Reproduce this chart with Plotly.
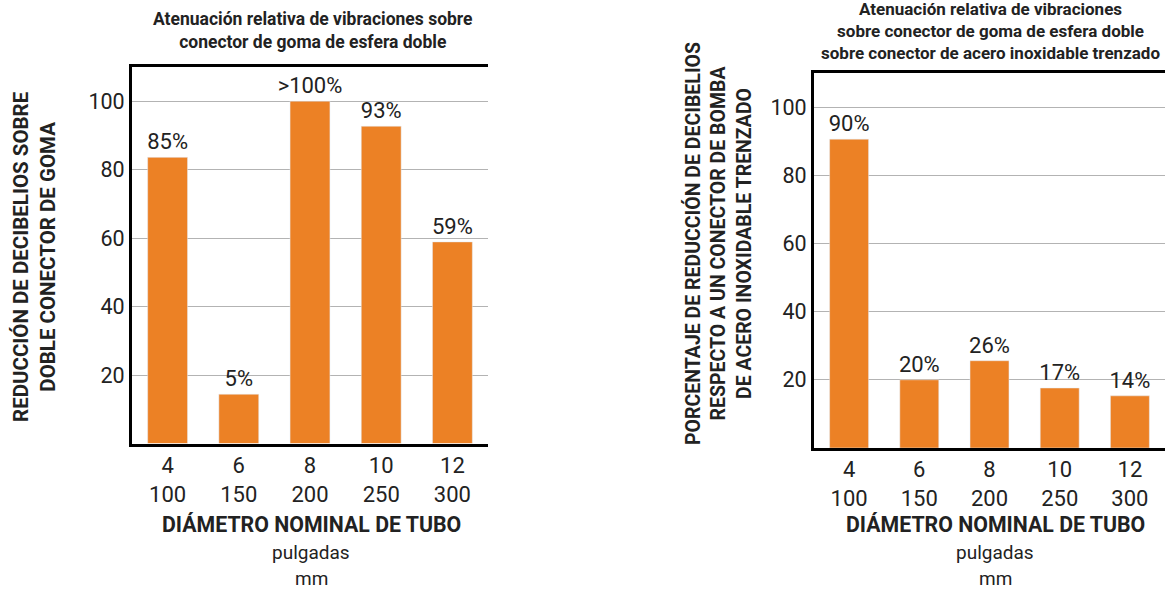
import plotly.graph_objects as go

# ---- data ----
pulgadas = ["4", "6", "8", "10", "12"]
mm = ["100", "150", "200", "250", "300"]
left_values = [83.6, 14.4, 100, 92.7, 58.9]
left_labels = ["85%", "5%", ">100%", "93%", "59%"]
right_values = [90.6, 20, 25.6, 17.6, 15.3]
right_labels = ["90%", "20%", "26%", "17%", "14%"]
y_ticks = [20, 40, 60, 80, 100]

ORANGE = "#EC8125"
TXT = "#222222"
FONT = "Roboto"

cats = list(range(len(pulgadas)))
ticktext = [f"{p}<br>{m}" for p, m in zip(pulgadas, mm)]

fig = go.Figure()
fig.add_trace(go.Bar(x=cats, y=left_values, text=left_labels, textposition="outside",
                     constraintext="none", cliponaxis=False, marker_color=ORANGE,
                     width=0.56, textfont=dict(family=FONT, size=22, color=TXT),
                     xaxis="x", yaxis="y", showlegend=False))
fig.add_trace(go.Bar(x=cats, y=right_values, text=right_labels, textposition="outside",
                     constraintext="none", cliponaxis=False, marker_color=ORANGE,
                     width=0.555, textfont=dict(family=FONT, size=22, color=TXT),
                     xaxis="x2", yaxis="y2", showlegend=False))

W, H = 1165, 589
def px_x(x): return x / W
def px_y(y): return 1 - y / H

xcommon = dict(range=[-0.5, 4.5], tickvals=cats, ticktext=ticktext, showline=True,
               linecolor="black", linewidth=3, mirror=True, showgrid=False, ticks="",
               tickfont=dict(family=FONT, size=22, color=TXT), fixedrange=True)
ycommon = dict(range=[0, 110], tickvals=y_ticks, showline=True, linecolor="black",
               linewidth=3, showgrid=True, gridcolor="#b3b3b3", gridwidth=1, zeroline=False,
               ticks="", tickfont=dict(family=FONT, size=21.5, color=TXT), fixedrange=True)

fig.update_layout(
    width=W, height=H, margin=dict(l=0, r=0, t=0, b=0),
    plot_bgcolor="white", paper_bgcolor="white", bargap=0.44,
    xaxis=dict(domain=[px_x(132), px_x(488)], anchor="y", **xcommon),
    yaxis=dict(domain=[px_y(443.5), px_y(67)], anchor="x", **ycommon),
    xaxis2=dict(domain=[px_x(814), 1.0], anchor="y2", **xcommon),
    yaxis2=dict(domain=[px_y(448), px_y(73)], anchor="x2", **ycommon),
)

bold = dict(family=FONT, size=17, color=TXT, weight="bold")
ann = []
# titles
ann.append(dict(text="Atenuación relativa de vibraciones sobre<br>conector de goma de esfera doble",
                x=px_x(313), y=px_y(30), xref="paper", yref="paper", showarrow=False,
                font=dict(family=FONT, size=17.5, color=TXT, weight="bold"),
                xanchor="center", yanchor="middle"))
ann.append(dict(text="Atenuación relativa de vibraciones<br>sobre conector de goma de esfera doble<br>sobre conector de acero inoxidable trenzado",
                x=px_x(990), y=px_y(31), xref="paper", yref="paper", showarrow=False,
                font=bold, xanchor="center", yanchor="middle"))
# y titles
ann.append(dict(text="REDUCCIÓN DE DECIBELIOS SOBRE<br>DOBLE CONECTOR DE GOMA",
                x=px_x(34), y=px_y(257), xref="paper", yref="paper", showarrow=False,
                font=dict(family=FONT, size=20.5, color=TXT, weight="bold"),
                textangle=-90, xanchor="center", yanchor="middle"))
ann.append(dict(text="PORCENTAJE DE REDUCCIÓN DE DECIBELIOS<br>RESPECTO A UN CONECTOR DE BOMBA<br>DE ACERO INOXIDABLE TRENZADO",
                x=px_x(718), y=px_y(244), xref="paper", yref="paper", showarrow=False,
                font=dict(family=FONT, size=19.5, color=TXT, weight="bold"),
                textangle=-90, xanchor="center", yanchor="middle"))
# x titles
for cx in (311, 995):
    ann.append(dict(text="DIÁMETRO NOMINAL DE TUBO", x=px_x(cx), y=px_y(524), xref="paper",
                    yref="paper", showarrow=False, xanchor="center", yanchor="middle",
                    font=dict(family=FONT, size=21.3, color=TXT, weight="bold")))
    ann.append(dict(text="pulgadas", x=px_x(cx), y=px_y(552), xref="paper", yref="paper",
                    showarrow=False, xanchor="center", yanchor="middle",
                    font=dict(family=FONT, size=19, color=TXT)))
    ann.append(dict(text="mm", x=px_x(cx), y=px_y(578), xref="paper", yref="paper",
                    showarrow=False, xanchor="center", yanchor="middle",
                    font=dict(family=FONT, size=19, color=TXT)))
fig.update_layout(annotations=ann)

fig.write_html("out.html")
